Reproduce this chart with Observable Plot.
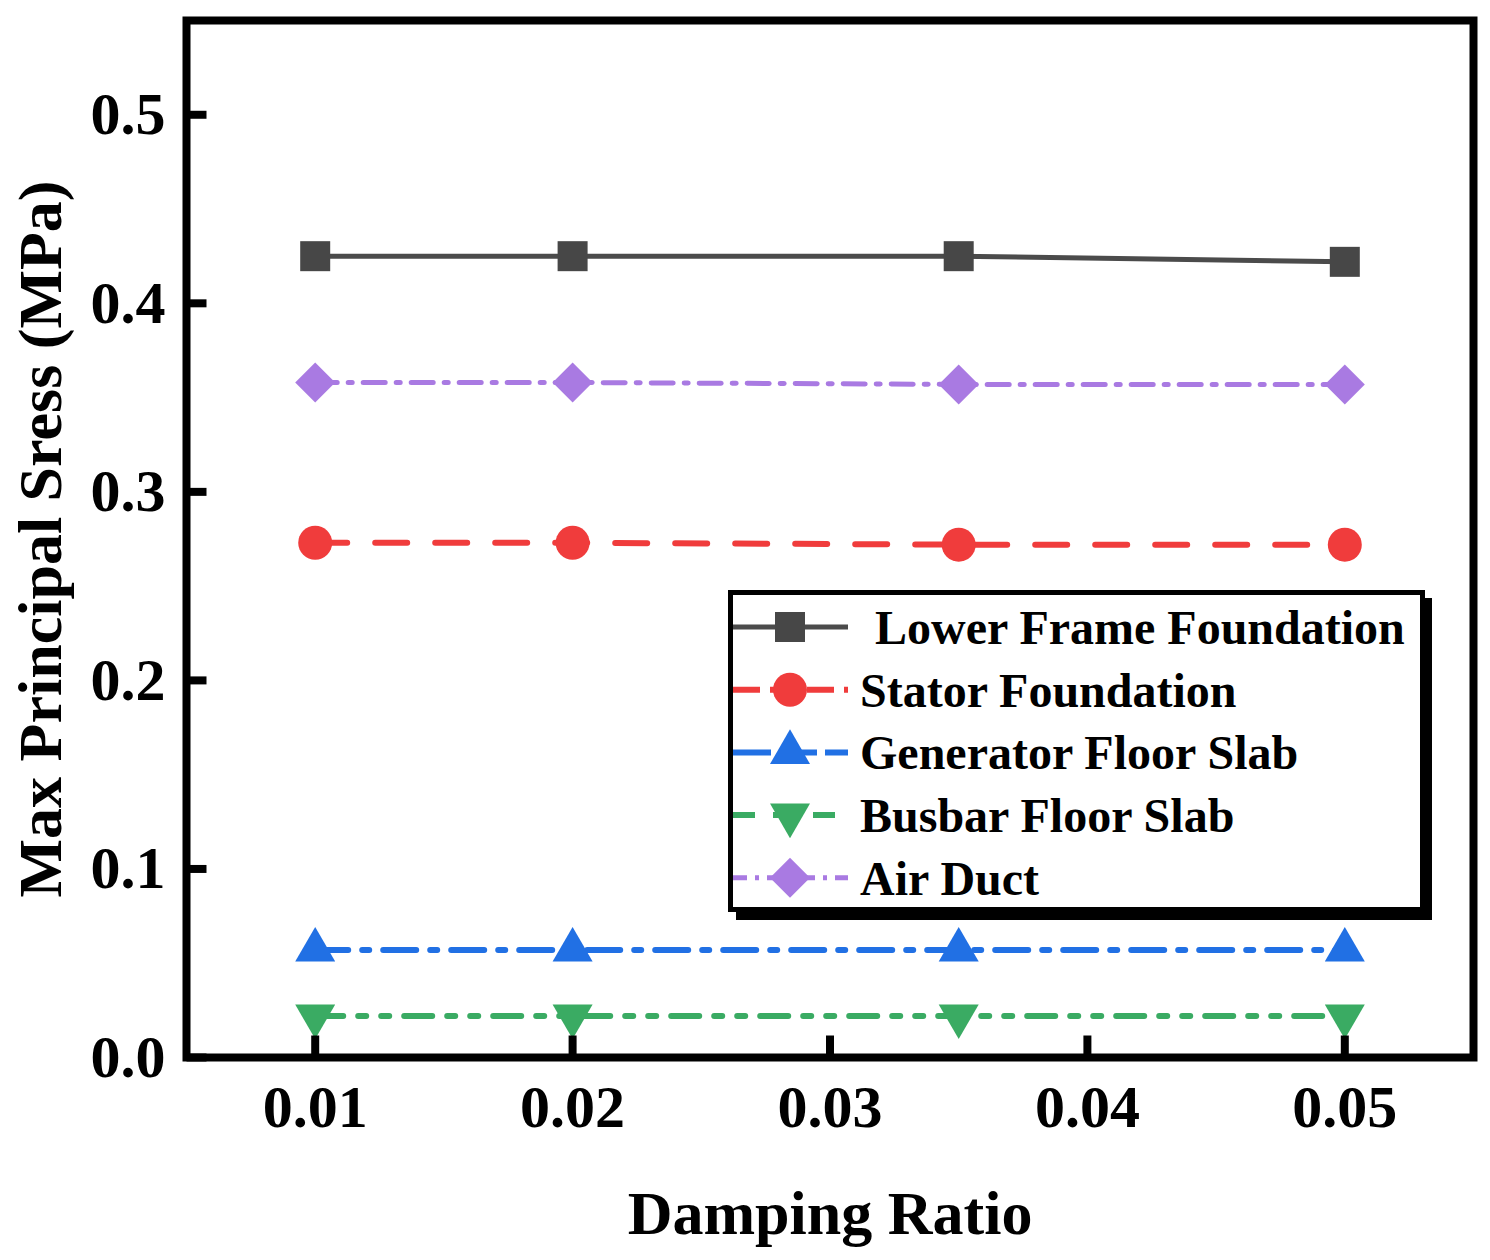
<!DOCTYPE html>
<html>
<head>
<meta charset="utf-8">
<script src="https://cdn.jsdelivr.net/npm/d3@7"></script>
<script src="https://cdn.jsdelivr.net/npm/@observablehq/plot@0.6"></script>
<style>
  body { margin: 0; background: #fff; }
  #chart { width: 1490px; height: 1260px; }
</style>
</head>
<body>
<div id="chart"></div>
<script>
// data
const dampingRatio = [0.01, 0.02, 0.035, 0.05];
const seriesNames = ["Lower Frame Foundation", "Stator Foundation", "Generator Floor Slab", "Busbar Floor Slab", "Air Duct"];
const lowerFrame = [0.425, 0.425, 0.425, 0.422];
const stator = [0.273, 0.273, 0.272, 0.272];
const generator = [0.057, 0.057, 0.057, 0.057];
const busbar = [0.022, 0.022, 0.022, 0.022];
const airDuct = [0.358, 0.358, 0.357, 0.357];
const xTicks = [0.01, 0.02, 0.03, 0.04, 0.05];
const yTicks = [0, 0.1, 0.2, 0.3, 0.4, 0.5];
const xDomain = [0.005, 0.055];
const yDomain = [0, 0.55];

const seriesValues = [lowerFrame, stator, generator, busbar, airDuct];
const rows = seriesNames.flatMap((name, i) =>
  dampingRatio.map((r, j) => ({series: name, ratio: r, stress: seriesValues[i][j]})));

// custom symbols (r = sqrt(size / PI))
const rad = (s) => Math.sqrt(s / Math.PI);
const symSquare = {draw(c, s) { const r = rad(s); c.rect(-r, -r, 2 * r, 2 * r); }};
const symCircle = {draw(c, s) { const r = rad(s); c.moveTo(r, 0); c.arc(0, 0, r, 0, 2 * Math.PI); }};
const symTriUp = {draw(c, s) { const r = rad(s), h = r * Math.sqrt(3);
  c.moveTo(0, -2 * h / 3); c.lineTo(r, h / 3); c.lineTo(-r, h / 3); c.closePath(); }};
const symTriDown = {draw(c, s) { const r = rad(s), h = r * Math.sqrt(3);
  c.moveTo(0, 2 * h / 3); c.lineTo(r, -h / 3); c.lineTo(-r, -h / 3); c.closePath(); }};
const symDiamond = {draw(c, s) { const r = rad(s);
  c.moveTo(0, -r); c.lineTo(r, 0); c.lineTo(0, r); c.lineTo(-r, 0); c.closePath(); }};
const tickUp = {draw(c) { c.moveTo(0, 0); c.lineTo(0, -22); }};
const tickRight = {draw(c) { c.moveTo(0, 0); c.lineTo(20, 0); }};

// styles per series
const colors = ["#4b4b4b", "#f03c3c", "#2170e4", "#3aab63", "#a97ae2"];
const markerColors = ["#474747", "#f03c3c", "#2170e4", "#3aab63", "#a97ae2"];
const dashes = [null, "32,28", "33,14,7,14", "28,15,8,15,8,15", "22,11,4,11"];
const legendDashes = [null, "27,10", "38,8", "22,18", "14,8,4,8"];
const widths = [5, 6, 6, 6, 5];
const symbols = [symSquare, symCircle, symTriUp, symTriDown, symDiamond];
const radii = [15, 17, 20, 20, 20];

const font = "Liberation Serif, Times New Roman, serif";

const marks = [];
seriesNames.forEach((name, i) => {
  const d = rows.filter(r => r.series === name);
  marks.push(Plot.line(d, {
    x: "ratio", y: "stress", stroke: colors[i], strokeWidth: widths[i],
    strokeDasharray: dashes[i]
  }));
});
seriesNames.forEach((name, i) => {
  const d = rows.filter(r => r.series === name);
  marks.push(Plot.dot(d, {
    x: "ratio", y: "stress", symbol: symbols[i], r: radii[i],
    fill: markerColors[i], stroke: "none"
  }));
});

const chart = Plot.plot({
  width: 1490,
  height: 1260,
  marginLeft: 186,
  marginRight: 17,
  marginTop: 20,
  marginBottom: 203,
  style: {fontFamily: font, fontWeight: "bold", fontSize: "60px", background: "white", color: "black"},
  x: {domain: xDomain},
  y: {domain: yDomain},
  marks: [
    ...marks,
    // inward ticks
    Plot.dot(xTicks, {x: d => d, y: () => yDomain[0], symbol: tickUp, r: 5, fill: "none", stroke: "black", strokeWidth: 8}),
    Plot.dot(yTicks, {x: () => xDomain[0], y: d => d, symbol: tickRight, r: 5, fill: "none", stroke: "black", strokeWidth: 8}),
    Plot.axisX(xTicks, {tickSize: 0, tickPadding: 27, tickFormat: d3.format(".2f"), fontSize: 60, fontWeight: "bold", label: null}),
    Plot.axisY(yTicks, {tickSize: 0, tickPadding: 21, tickFormat: d3.format(".1f"), fontSize: 60, fontWeight: "bold", label: null}),
    Plot.frame({stroke: "black", strokeWidth: 8}),
    Plot.text(["Damping Ratio"], {frameAnchor: "bottom", dy: 176, lineAnchor: "bottom", textAnchor: "middle", fontSize: 62, fontWeight: "bold"}),
    Plot.text(["Max Principal Sress (MPa)"], {frameAnchor: "left", dx: -126, rotate: -90, lineAnchor: "bottom", textAnchor: "middle", fontSize: 62, fontWeight: "bold"})
  ]
});

// legend box drawn over the plot
const svg = d3.select(chart);
const lg = svg.append("g").attr("text-anchor", "start");
lg.append("rect").attr("x", 736).attr("y", 598).attr("width", 696).attr("height", 322).attr("fill", "black");
lg.append("rect").attr("x", 730.5).attr("y", 592.5).attr("width", 692).attr("height", 317)
  .attr("fill", "white").attr("stroke", "black").attr("stroke-width", 5);
seriesNames.forEach((name, i) => {
  const y = 627 + i * 62.7;
  lg.append("line").attr("x1", 733).attr("x2", 848).attr("y1", y).attr("y2", y)
    .attr("stroke", colors[i]).attr("stroke-width", widths[i])
    .attr("stroke-dasharray", legendDashes[i]);
  lg.append("path").attr("transform", `translate(790,${y})`)
    .attr("d", d3.symbol().type(symbols[i]).size(radii[i] * radii[i] * Math.PI)())
    .attr("fill", markerColors[i]);
  lg.append("text").attr("x", i === 0 ? 875 : 860).attr("y", y).attr("dy", "0.35em")
    .attr("text-anchor", "start")
    .attr("font-size", 48).attr("font-weight", "bold").attr("font-family", font)
    .attr("fill", "black").text(name);
});

d3.select("#chart").append(() => chart);
</script>
</body>
</html>
